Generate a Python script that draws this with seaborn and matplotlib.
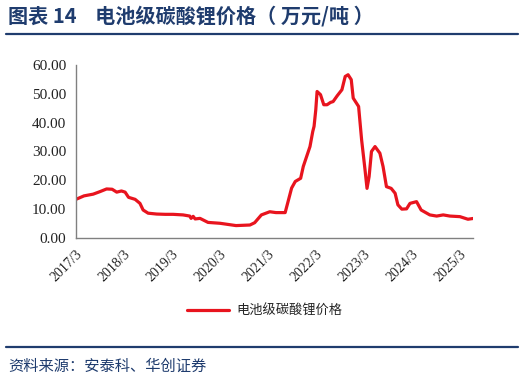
import matplotlib
matplotlib.use("Agg")
import matplotlib.pyplot as plt
from matplotlib.lines import Line2D
import pandas as pd
import seaborn as sns

TITLE = "图表 14    电池级碳酸锂价格（ 万元/吨 ）"
SOURCE = "资料来源：安泰科、华创证券"
SERIES = "电池级碳酸锂价格"

dates = [
    "2017-03-01", "2017-05-01", "2017-07-10", "2017-09-01", "2017-10-20",
    "2017-12-01", "2018-01-05", "2018-02-10", "2018-03-10", "2018-04-05",
    "2018-05-25", "2018-07-01", "2018-07-25", "2018-09-01", "2018-11-05",
    "2019-01-10", "2019-03-10", "2019-05-25", "2019-07-15", "2019-07-25",
    "2019-08-10", "2019-08-25", "2019-10-01", "2019-12-01", "2020-03-01",
    "2020-07-01", "2020-10-15", "2020-11-20", "2021-01-10", "2021-03-15",
    "2021-05-01", "2021-07-10", "2021-08-01", "2021-08-28", "2021-09-25",
    "2021-11-05", "2021-11-25", "2022-01-15", "2022-02-05", "2022-02-15",
    "2022-02-28", "2022-03-10", "2022-04-05", "2022-04-30", "2022-05-25",
    "2022-06-20", "2022-07-10", "2022-08-10", "2022-09-15", "2022-10-10",
    "2022-11-01", "2022-11-25", "2022-12-10", "2023-01-20", "2023-02-12",
    "2023-03-10", "2023-03-25", "2023-04-10", "2023-04-28", "2023-05-25",
    "2023-07-01", "2023-07-25", "2023-08-20", "2023-09-25", "2023-10-25",
    "2023-11-15", "2023-12-15", "2024-01-20", "2024-02-15", "2024-04-05",
    "2024-05-10", "2024-07-15", "2024-09-05", "2024-10-25", "2024-12-15",
    "2025-03-01", "2025-05-01", "2025-06-15",
]
prices = [
    13.4, 14.6, 15.2, 16.1, 17.0,
    16.9, 15.9, 16.3, 15.9, 14.1,
    13.4, 12.0, 9.7, 8.6, 8.3,
    8.2, 8.2, 8.0, 7.6, 6.8,
    7.5, 6.6, 6.8, 5.4, 5.1,
    4.3, 4.5, 5.3, 8.0, 9.1,
    8.8, 8.8, 12.6, 17.3, 19.6,
    20.7, 24.8, 31.7, 36.9, 38.7,
    44.4, 50.8, 49.7, 46.2, 46.2,
    47.0, 47.3, 49.3, 51.4, 56.0,
    56.6, 54.9, 48.5, 45.6, 34.0,
    23.6, 17.2, 21.3, 30.0, 31.7,
    29.4, 24.8, 17.8, 17.2, 15.5,
    11.5, 10.0, 10.1, 12.0, 12.6,
    9.7, 8.0, 7.6, 8.0, 7.6,
    7.4, 6.5, 6.8,
]
tick_dates = [f"{y}-03-01" for y in range(2017, 2026)]
tick_labels = [f"{y}/3" for y in range(2017, 2026)]
y_ticks = [0, 10, 20, 30, 40, 50, 60]

df = pd.DataFrame({"date": pd.to_datetime(dates), "price": prices})

sns.set_style("white")
plt.rcParams["font.family"] = ["Noto Sans CJK SC", "DejaVu Sans"]

NAVY = "#1F3C6E"
RED = "#E8141E"

fig = plt.figure(figsize=(5.24, 3.82), dpi=100)
ax = fig.add_axes([0.145, 0.377, 0.758, 0.453])
sns.lineplot(data=df, x="date", y="price", ax=ax, color=RED, linewidth=2.3)

ax.set_ylim(0, 60)
ax.set_yticks(y_ticks)
ax.set_yticklabels([f"{v:.2f}" for v in y_ticks])
ax.set_xlim(pd.Timestamp("2017-03-01"), pd.Timestamp("2025-06-10"))
ax.set_xticks(pd.to_datetime(tick_dates))
ax.set_xticklabels(tick_labels, rotation=45, ha="right", rotation_mode="anchor")
ax.set_xlabel("")
ax.set_ylabel("")
for side in ["top", "right"]:
    ax.spines[side].set_visible(False)
for side in ["left", "bottom"]:
    ax.spines[side].set_color("#808080")
    ax.spines[side].set_linewidth(1)
ax.tick_params(axis="both", direction="out", length=4, width=1, color="#808080",
               labelcolor="#222222", pad=3)
for lab in ax.get_yticklabels():
    lab.set_fontfamily("Liberation Serif")
    lab.set_fontsize(11)
for lab in ax.get_xticklabels():
    lab.set_fontfamily("Liberation Serif")
    lab.set_fontsize(10)

handle = Line2D([], [], color=RED, linewidth=2.3)
fig.legend([handle], [SERIES], loc="center", bbox_to_anchor=(0.505, 0.186),
           frameon=False, fontsize=9.5, handlelength=3.2, handletextpad=0.5)

fig.text(0.015, 0.958, TITLE, color=NAVY, fontsize=14.5, fontweight="bold", va="center")
fig.add_artist(Line2D([0.012, 0.988], [0.912, 0.912], color=NAVY, linewidth=1.6))
fig.add_artist(Line2D([0.012, 0.988], [0.092, 0.092], color=NAVY, linewidth=1.6))
fig.text(0.015, 0.042, SOURCE, color=NAVY, fontsize=11, va="center")

fig.savefig("out.png", dpi=100)
